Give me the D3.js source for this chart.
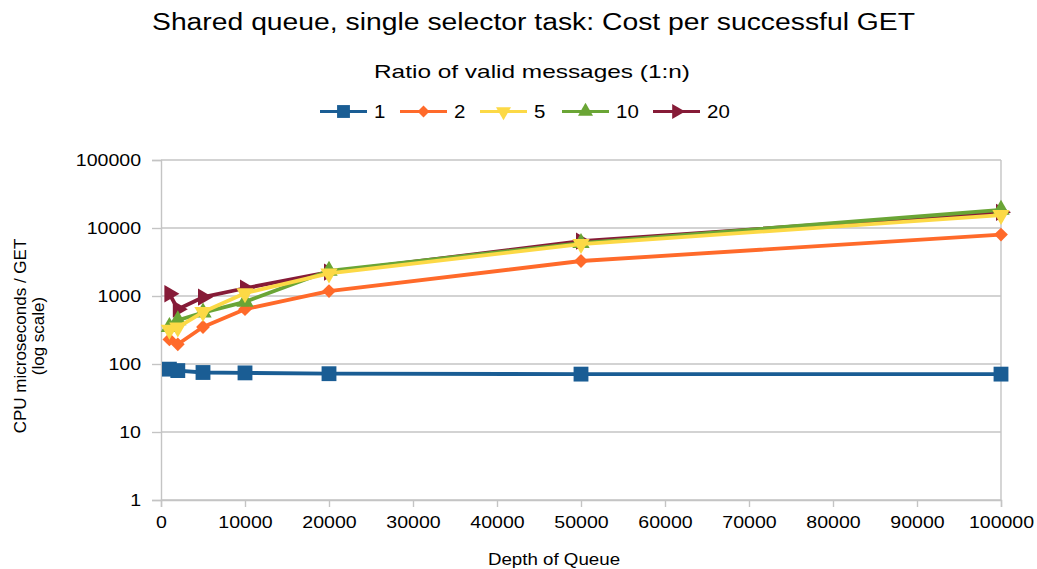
<!DOCTYPE html>
<html>
<head>
<meta charset="utf-8">
<script src="https://cdn.jsdelivr.net/npm/d3@7"></script>
<style>
  html, body { margin: 0; padding: 0; background: #fff; }
  svg { display: block; font-family: "Liberation Sans", Arial, sans-serif; }
</style>
</head>
<body>
<svg id="chart" width="1037" height="569"></svg>
<script>
// Queue depths sampled
const depths = [1000, 2000, 5000, 10000, 20000, 50000, 100000];

// Cost per successful GET (CPU microseconds) for each ratio of valid messages 1:n
const ratio1  = [84, 80, 75, 74, 72, 71, 71];
const ratio2  = [230, 195, 350, 640, 1180, 3270, 8000];
const ratio5  = [320, 345, 580, 1100, 2150, 5800, 15500];
const ratio10 = [350, 440, 570, 820, 2350, 6000, 18500];
const ratio20 = [1080, 640, 960, 1300, 2250, 6400, 17000];

const seriesNames = ["1", "2", "5", "10", "20"];
const xTicks = [0, 10000, 20000, 30000, 40000, 50000, 60000, 70000, 80000, 90000, 100000];
const yTicks = [1, 10, 100, 1000, 10000, 100000];

const series = [
  { name: seriesNames[0], values: ratio1,  color: "#1a5d94", symbol: d3.symbolSquare,   size: 220, rot: 0 },
  { name: seriesNames[1], values: ratio2,  color: "#ff6a2a", symbol: d3.symbolSquare,   size: 95,  rot: 45 },
  { name: seriesNames[2], values: ratio5,  color: "#fcd946", symbol: d3.symbolTriangle, size: 130, rot: 180 },
  { name: seriesNames[3], values: ratio10, color: "#6aa535", symbol: d3.symbolTriangle, size: 130, rot: 0 },
  { name: seriesNames[4], values: ratio20, color: "#861b37", symbol: d3.symbolTriangle, size: 130, rot: 90 }
];
// stacking order of the series in the plot (last one on top)
const drawOrder = [0, 1, 4, 3, 2];

// glyphs are set slightly wide
const WIDE = 1.2;
function widen(sel, k) {
  sel.each(function () {
    const n = this.getComputedTextLength();
    d3.select(this).attr("textLength", n * k).attr("lengthAdjust", "spacingAndGlyphs");
  });
}

const svg = d3.select("#chart");
const plotL = 161, plotR = 1001, plotT = 160, plotB = 500;

const x = d3.scaleLinear().domain([0, 100000]).range([plotL, plotR]);
const y = d3.scaleLog().domain([1, 100000]).range([plotB, plotT]);

// Titles
svg.append("text").attr("x", 533.5).attr("y", 30).attr("text-anchor", "middle")
  .attr("font-size", 23).attr("fill", "#000")
  .text("Shared queue, single selector task: Cost per successful GET")
  .attr("textLength", 763).attr("lengthAdjust", "spacingAndGlyphs");
svg.append("text").attr("x", 532).attr("y", 78).attr("text-anchor", "middle")
  .attr("font-size", 18.5).attr("fill", "#000")
  .text("Ratio of valid messages (1:n)")
  .attr("textLength", 316).attr("lengthAdjust", "spacingAndGlyphs");

// Horizontal gridlines
svg.append("g").selectAll("line").data(yTicks).join("line")
  .attr("x1", plotL).attr("x2", plotR)
  .attr("y1", d => y(d)).attr("y2", d => y(d))
  .attr("stroke", "#c4c4c4").attr("stroke-width", 1.4);

// Right frame line
svg.append("line").attr("x1", plotR).attr("x2", plotR).attr("y1", plotT).attr("y2", plotB)
  .attr("stroke", "#c4c4c4").attr("stroke-width", 1.4);

// Y axis
const yAxis = d3.axisLeft(y).tickValues(yTicks).tickFormat(d3.format("d")).tickSizeOuter(0).tickSize(9).tickPadding(11);
const gy = svg.append("g").attr("transform", `translate(${plotL},0)`).call(yAxis);
gy.select(".domain").attr("stroke", "#c4c4c4").attr("stroke-width", 1.4);
gy.selectAll(".tick line").attr("stroke", "#c4c4c4").attr("stroke-width", 1.4);
gy.selectAll(".tick text").attr("font-size", 16.3).attr("fill", "#000")
  .attr("font-family", "'Liberation Sans', Arial, sans-serif")
  .call(widen, WIDE);

// X axis
const xAxis = d3.axisBottom(x).tickValues(xTicks).tickFormat(d3.format("d")).tickSizeOuter(0).tickSize(7).tickPadding(9);
const gx = svg.append("g").attr("transform", `translate(0,${plotB})`).call(xAxis);
gx.select(".domain").attr("stroke", "#c4c4c4").attr("stroke-width", 1.4);
gx.selectAll(".tick line").attr("stroke", "#c4c4c4").attr("stroke-width", 1.4);
gx.selectAll(".tick text").attr("font-size", 16.3).attr("fill", "#000")
  .attr("font-family", "'Liberation Sans', Arial, sans-serif")
  .call(widen, WIDE);

// Axis titles
svg.append("text").attr("x", 554).attr("y", 565).attr("text-anchor", "middle")
  .attr("font-size", 16).attr("fill", "#000").text("Depth of Queue")
  .call(widen, 1.17);
const yt = svg.append("text").attr("transform", "translate(26,336) rotate(-90)")
  .attr("text-anchor", "middle").attr("font-size", 17).attr("fill", "#000");
yt.append("tspan").attr("x", 0).attr("dy", 0).text("CPU microseconds / GET");
yt.append("tspan").attr("x", 0).attr("dy", 18).text("(log scale)");

// Series lines and markers
const line = d3.line().x((d, i) => x(depths[i])).y(d => y(d));
const plot = svg.append("g");
drawOrder.forEach(k => {
  const s = series[k];
  const g = plot.append("g");
  g.append("path").datum(s.values)
    .attr("d", line).attr("fill", "none")
    .attr("stroke", s.color).attr("stroke-width", 3.8).attr("stroke-linejoin", "round");
  g.append("g").selectAll("path").data(s.values).join("path")
    .attr("d", d3.symbol().type(s.symbol).size(s.size))
    .attr("transform", (d, i) => `translate(${x(depths[i])},${y(d)}) rotate(${s.rot})`)
    .attr("fill", s.color);
});

// Legend
const legendX = [320, 400, 480, 562, 653];
const lg = svg.append("g");
series.forEach((s, i) => {
  const g = lg.append("g").attr("transform", `translate(${legendX[i]},111.5)`);
  g.append("line").attr("x1", 0).attr("x2", 47).attr("y1", 0).attr("y2", 0)
    .attr("stroke", s.color).attr("stroke-width", 3);
  g.append("path").attr("d", d3.symbol().type(s.symbol).size(s.size * 0.75))
    .attr("transform", `translate(23.5,0) rotate(${s.rot})`).attr("fill", s.color);
  g.append("text").attr("x", 54).attr("y", 6.8).attr("font-size", 18.6).attr("fill", "#000").text(s.name)
    .call(widen, 1.1);
});
</script>
</body>
</html>
